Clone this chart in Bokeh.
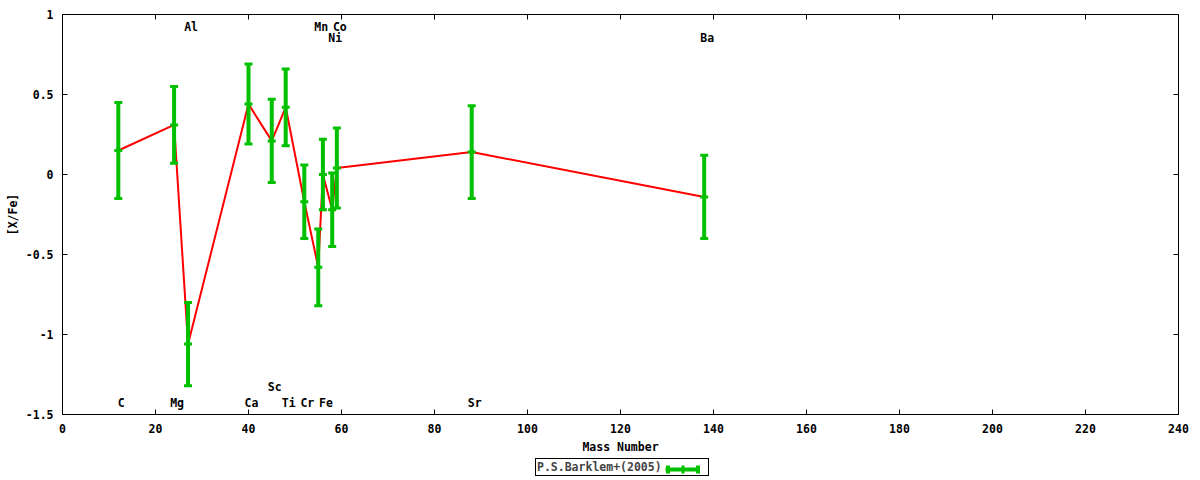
import numpy as np
from bokeh.plotting import figure
from bokeh.layouts import column
from bokeh.models import (Range1d, FixedTicker, LinearAxis, Whisker, TeeHead,
                          ColumnDataSource, Legend, LegendItem)
from bokeh.core.properties import value
from bokeh.embed import file_html
from bokeh.resources import INLINE

# ---- data ----
elements = ["C", "Mg", "Al", "Ca", "Sc", "Ti", "Cr", "Mn", "Fe", "Ni", "Co", "Sr", "Ba"]
mass = [12, 24, 27, 40, 45, 48, 52, 55, 56, 58, 59, 88, 138]
x_fe = [0.15, 0.31, -1.06, 0.44, 0.21, 0.42, -0.17, -0.58, 0.00, -0.22, 0.04, 0.14, -0.14]
x_fe_err = [0.30, 0.24, 0.26, 0.25, 0.26, 0.24, 0.23, 0.24, 0.22, 0.23, 0.25, 0.29, 0.26]
label_y = [-1.43, -1.43, 0.925, -1.43, -1.33, -1.43, -1.43, 0.925, -1.43, 0.855, 0.925, -1.43, 0.855]

x_ticks = [0, 20, 40, 60, 80, 100, 120, 140, 160, 180, 200, 220, 240]
y_ticks = [-1.5, -1, -0.5, 0, 0.5, 1]
y_tick_labels = ["-1.5", "-1", "-0.5", "0", "0.5", "1"]
series_name = "P.S.Barklem+(2005)"
x_title = "Mass Number"
y_title = "[X/Fe]"

FONT = "DejaVu Sans Mono"
FS = "11.5px"
GREEN = "#00c000"
RED = "#ff0000"

lower = [v - e for v, e in zip(x_fe, x_fe_err)]
upper = [v + e for v, e in zip(x_fe, x_fe_err)]
src = ColumnDataSource(dict(mass=mass, xfe=x_fe, lower=lower, upper=upper,
                            el=elements, ly=label_y))

p = figure(width=1200, height=457, x_range=Range1d(0, 240), y_range=Range1d(-1.5, 1),
           output_backend="svg", toolbar_location=None,
           min_border_left=62, min_border_right=22, min_border_top=14, min_border_bottom=43)
p.xgrid.visible = False
p.ygrid.visible = False
p.outline_line_color = "black"
p.outline_line_width = 1
p.outline_line_alpha = 1
p.background_fill_color = "white"
p.border_fill_color = "white"


def style_axis(ax, ticks):
    ax.ticker = FixedTicker(ticks=ticks)
    ax.axis_line_color = None
    ax.major_tick_in = 5
    ax.major_tick_out = 0
    ax.major_tick_line_color = "black"
    ax.minor_tick_line_color = None
    ax.major_label_text_font = FONT
    ax.major_label_text_font_style = "bold"
    ax.major_label_text_font_size = FS
    ax.major_label_text_color = "black"
    ax.axis_label_text_font = FONT
    ax.axis_label_text_font_style = "bold"
    ax.axis_label_text_font_size = FS
    ax.axis_label_text_color = "black"


xb = p.below[0]
style_axis(xb, x_ticks)
xb.major_label_standoff = 9
xb.axis_label = x_title
xb.axis_label_standoff = 4

yl = p.left[0]
style_axis(yl, y_ticks)
yl.major_label_overrides = {t: s for t, s in zip(y_ticks, y_tick_labels)}
yl.major_label_standoff = 9
yl.axis_label = y_title
yl.axis_label_standoff = 3

top = LinearAxis()
style_axis(top, x_ticks)
top.major_label_overrides = {t: "" for t in x_ticks}
top.major_label_text_font_size = "1px"
top.major_label_standoff = 0
p.add_layout(top, "above")

right = LinearAxis()
style_axis(right, y_ticks)
right.major_label_overrides = {t: "" for t in y_ticks}
right.major_label_text_font_size = "1px"
right.major_label_standoff = 0
p.add_layout(right, "right")

# red connecting line
p.line(x="mass", y="xfe", source=src, line_color=RED, line_width=2)

# error bars
wh = Whisker(base="mass", lower="lower", upper="upper", source=src, dimension="height",
             line_color=GREEN, line_width=4,
             upper_head=TeeHead(size=8, line_color=GREEN, line_width=3),
             lower_head=TeeHead(size=8, line_color=GREEN, line_width=3),
             level="annotation")
p.add_layout(wh)
p.scatter(x="mass", y="xfe", source=src, marker="dash", size=8,
          line_color=GREEN, line_width=3, fill_color=GREEN)

# element labels
p.text(x="mass", y="ly", text="el", source=src, text_font=value(FONT),
       text_font_style="bold", text_font_size=FS, text_color="black",
       text_align="center", text_baseline="middle", x_offset=3)

# ---- legend strip below the plot (gnuplot style: text, then sample) ----
p2 = figure(width=1200, height=23, x_range=Range1d(1000, 1001), y_range=Range1d(1000, 1001),
            output_backend="svg", toolbar_location=None,
            x_axis_location=None, y_axis_location=None,
            min_border_left=0, min_border_right=0, min_border_top=0, min_border_bottom=0)
p2.xgrid.visible = False
p2.ygrid.visible = False
p2.outline_line_color = None
p2.background_fill_color = "white"
p2.border_fill_color = "white"

txt_r = p2.line(x="mass", y="xfe", source=src, line_alpha=0)
stem_r = p2.segment(x0="mass", y0="lower", x1="mass", y1="upper", source=src,
                    line_color=GREEN, line_width=4)
tick_r = p2.scatter(x="mass", y="xfe", source=src, marker="cross",
                    line_color=GREEN, line_width=3)
cap_r = p2.vbar(x="mass", top="upper", bottom="lower", width=1, source=src,
                fill_color=GREEN, line_color=None)

legA = Legend(items=[LegendItem(label=series_name, renderers=[txt_r])],
              location=(473, 4), glyph_width=0, glyph_height=12, label_standoff=0,
              label_width=170, label_height=12, padding=1, spacing=0, margin=0,
              border_line_color="black", border_line_width=1, border_line_alpha=1,
              background_fill_color="white", background_fill_alpha=1,
              label_text_font=FONT, label_text_font_style="bold", label_text_font_size=FS)
p2.add_layout(legA)


def sample_legend(renderers, loc, gw, gh):
    return Legend(items=[LegendItem(label=" ", renderers=renderers)],
                  location=loc, glyph_width=gw, glyph_height=gh, label_standoff=0,
                  label_width=0, label_height=gh, padding=0, spacing=0, margin=0,
                  border_line_alpha=0, background_fill_alpha=0,
                  label_text_font=FONT, label_text_font_size="1px")


p2.add_layout(sample_legend([stem_r, tick_r], (603, 1), 35, 20))
p2.add_layout(sample_legend([cap_r], (603, 6), 5, 10))
p2.add_layout(sample_legend([cap_r], (633, 6), 5, 10))

open("out.html", "w").write(file_html(column(p, p2), INLINE))
